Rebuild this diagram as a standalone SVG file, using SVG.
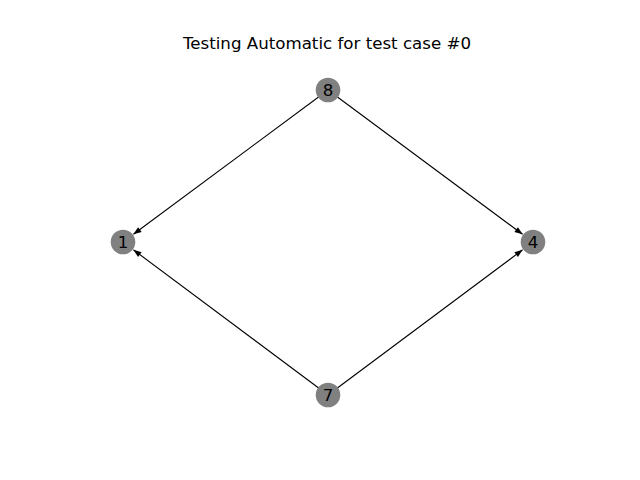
<svg xmlns="http://www.w3.org/2000/svg" width="640" height="480" viewBox="0 0 640 480">
<style>
.edge{stroke:#000;stroke-width:1.1;fill:none}
.node circle{fill:#808080}
.node text{font-family:"DejaVu Sans",sans-serif;font-size:16.67px;text-anchor:middle;fill:#000}
.title{font-family:"DejaVu Sans",sans-serif;font-size:16.67px;text-anchor:middle;fill:#000}
</style>
<defs>
<marker id="arr" markerUnits="userSpaceOnUse" markerWidth="10" markerHeight="8" viewBox="0 0 10 8" refX="9" refY="4" orient="auto">
<path d="M1,1 L9,4 L1,7 Z" fill="#000"/>
</marker>
</defs>
<rect width="640" height="480" fill="#fff"/>
<text class="title" x="327" y="49">Testing Automatic for test case #0</text>
<g id="edges">
<line class="edge" x1="328" y1="90" x2="133.4" y2="234.3" marker-end="url(#arr)"/>
<line class="edge" x1="328" y1="90" x2="522.6" y2="234.3" marker-end="url(#arr)"/>
<line class="edge" x1="328" y1="395" x2="133.4" y2="249.8" marker-end="url(#arr)"/>
<line class="edge" x1="328" y1="395" x2="522.6" y2="249.8" marker-end="url(#arr)"/>
</g>
<g id="node8" class="node"><circle cx="328" cy="90" r="12.3"/><text x="328" y="96">8</text></g>
<g id="node1" class="node"><circle cx="123" cy="242" r="12.3"/><text x="123" y="248">1</text></g>
<g id="node4" class="node"><circle cx="533" cy="242" r="12.3"/><text x="533" y="248">4</text></g>
<g id="node7" class="node"><circle cx="328" cy="395" r="12.3"/><text x="328" y="401">7</text></g>
</svg>
